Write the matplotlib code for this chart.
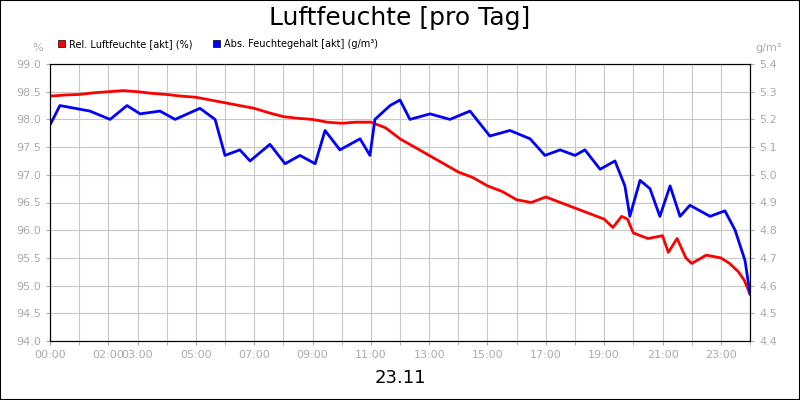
import matplotlib
matplotlib.use("Agg")
import matplotlib.pyplot as plt
from matplotlib.patches import Rectangle

rel_hours = [0, 0.5, 1, 1.5, 2, 2.5, 3, 3.5, 4, 4.5, 5, 5.5, 6, 6.5, 7, 7.5, 8, 8.5, 9, 9.5, 10, 10.5, 11, 11.5, 12, 12.5, 13, 13.5, 14, 14.5, 15, 15.5, 16, 16.5, 17, 17.5, 18, 18.5, 19, 19.3, 19.6, 19.8, 20, 20.5, 21, 21.2, 21.5, 21.8, 22, 22.5, 23, 23.3, 23.6, 23.8, 24]
rel_vals = [98.42, 98.44, 98.45, 98.48, 98.5, 98.52, 98.5, 98.47, 98.45, 98.42, 98.4, 98.35, 98.3, 98.25, 98.2, 98.12, 98.05, 98.02, 98.0, 97.95, 97.93, 97.95, 97.95, 97.85, 97.65, 97.5, 97.35, 97.2, 97.05, 96.95, 96.8, 96.7, 96.55, 96.5, 96.6, 96.5, 96.4, 96.3, 96.2, 96.05, 96.25, 96.2, 95.95, 95.85, 95.9, 95.6, 95.85, 95.5, 95.4, 95.55, 95.5, 95.4, 95.25, 95.1, 94.85]

abs_hours = [0, 0.34, 1.37, 2.06, 2.64, 3.09, 3.77, 4.29, 5.14, 5.66, 6.0, 6.51, 6.86, 7.54, 8.06, 8.57, 9.09, 9.43, 9.94, 10.63, 10.97, 11.14, 11.66, 12.0, 12.34, 13.03, 13.71, 14.4, 15.08, 15.77, 16.46, 16.97, 17.49, 18.0, 18.34, 18.86, 19.37, 19.71, 19.88, 20.23, 20.57, 20.91, 21.26, 21.6, 21.94, 22.63, 23.14, 23.49, 23.83, 24.0]
abs_vals = [5.18, 5.25, 5.23, 5.20, 5.25, 5.22, 5.23, 5.20, 5.24, 5.20, 5.07, 5.09, 5.05, 5.11, 5.04, 5.07, 5.04, 5.16, 5.09, 5.13, 5.07, 5.20, 5.25, 5.27, 5.20, 5.22, 5.20, 5.23, 5.14, 5.16, 5.13, 5.07, 5.09, 5.07, 5.09, 5.02, 5.05, 4.96, 4.85, 4.98, 4.95, 4.85, 4.96, 4.85, 4.89, 4.85, 4.87, 4.80, 4.69, 4.57]

tick_hours = [0, 2, 3, 5, 7, 9, 11, 13, 15, 17, 19, 21, 23]
tick_labels = ["00:00", "02:00", "03:00", "05:00", "07:00", "09:00", "11:00", "13:00", "15:00", "17:00", "19:00", "21:00", "23:00"]

fig = plt.figure(figsize=(8, 4), dpi=100)
fig.patches.append(Rectangle((0, 0), 1, 1, transform=fig.transFigure, fill=False, edgecolor="black", lw=1.5))
ax = fig.add_axes([50/800, 1-341/400, 700/800, 277/400])
ax2 = ax.twinx()
gray = "#aaaaaa"
ax.plot(rel_hours, rel_vals, color="#ff0000", lw=2)
ax2.plot(abs_hours, abs_vals, color="#0000ff", lw=2)
ax.set_xlim(0, 24)
ax.set_ylim(94, 99)
ax2.set_ylim(4.4, 5.4)
ax.set_yticks([94 + 0.5*i for i in range(11)])
ax.set_yticklabels([f"{94 + 0.5*i:.1f}" for i in range(11)])
ax2.set_yticks([4.4 + 0.1*i for i in range(11)])
ax2.set_yticklabels([f"{4.4 + 0.1*i:.1f}" for i in range(11)])
ax.set_xticks(tick_hours)
ax.set_xticklabels(tick_labels)
ax.set_xticks(range(25), minor=True)
ax.grid(True, which="both", color="#c8c8c8", lw=0.8)
ax.set_axisbelow(True)
for a in (ax, ax2):
    a.tick_params(colors=gray, labelsize=8, length=3, which="both")
    a.tick_params(labelcolor=gray)
    for s in a.spines.values():
        s.set_color("black")
fig.text(0.5, 0.955, "Luftfeuchte [pro Tag]", ha="center", va="center", fontsize=18)
fig.text(0.5, 0.055, "23.11", ha="center", va="center", fontsize=13)
fig.text(43/800, 1-48/400, "%", ha="right", va="center", fontsize=8, color=gray)
fig.text(755/800, 1-48/400, "g/m³", ha="left", va="center", fontsize=8, color=gray)
fig.patches.append(Rectangle((58/800, 1-47/400), 7/800, 7/400, transform=fig.transFigure, facecolor="#ff0000", edgecolor="black", lw=0.5))
fig.text(69/800, 1-44/400, "Rel. Luftfeuchte [akt] (%)", fontsize=7, va="center")
fig.patches.append(Rectangle((213/800, 1-47/400), 7/800, 7/400, transform=fig.transFigure, facecolor="#0000ff", edgecolor="black", lw=0.5))
fig.text(224/800, 1-44/400, "Abs. Feuchtegehalt [akt] (g/m³)", fontsize=7, va="center")
fig.savefig("out.png")
